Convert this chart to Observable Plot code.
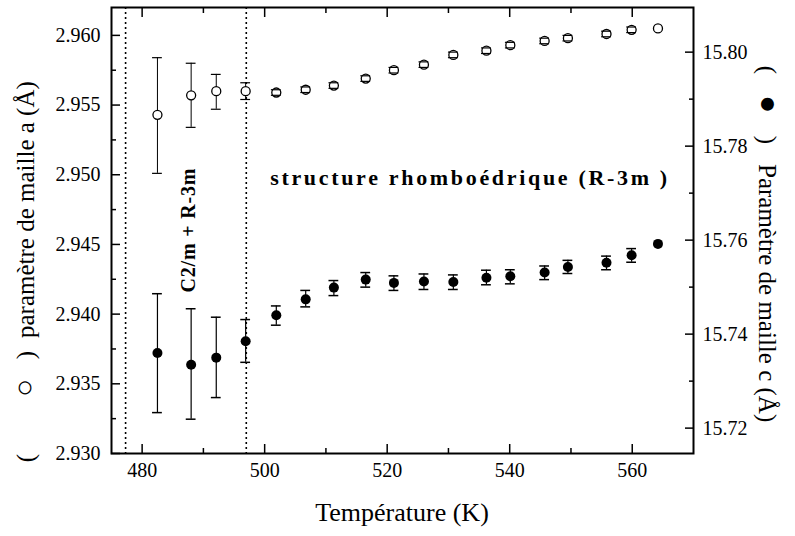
<!DOCTYPE html>
<html><head><meta charset="utf-8">
<script src="https://cdn.jsdelivr.net/npm/d3@7"></script>
<script src="https://cdn.jsdelivr.net/npm/@observablehq/plot@0.6"></script>
<style>
body{margin:0;background:#fff}
</style>
</head><body><div id="chart"></div>
<script>
// ---- data ----
const temperature = [482.5, 488.0, 492.1, 496.9, 501.9, 506.7, 511.3, 516.5, 521.1, 526.0, 530.8, 536.2, 540.1, 545.7, 549.5, 555.8, 559.9, 564.2];
const paramA     = [2.9543, 2.9557, 2.9560, 2.9560, 2.9559, 2.9561, 2.9564, 2.9569, 2.9575, 2.9579, 2.9586, 2.9589, 2.9593, 2.9596, 2.9598, 2.9601, 2.9604, 2.9605];
const paramALow  = [2.9501, 2.9534, 2.9547, 2.9554, 2.9557, 2.9559, 2.9562, 2.9567, 2.9573, 2.9577, 2.9584, 2.9587, 2.9591, 2.9594, 2.9596, 2.9599, 2.9602, null];
const paramAHigh = [2.9584, 2.9580, 2.9572, 2.9566, 2.9561, 2.9563, 2.9566, 2.9571, 2.9577, 2.9581, 2.9588, 2.9591, 2.9595, 2.9598, 2.9600, 2.9603, 2.9606, null];
const paramC     = [15.7360, 15.7335, 15.7350, 15.7385, 15.7440, 15.7474, 15.7499, 15.7516, 15.7509, 15.7512, 15.7511, 15.7520, 15.7523, 15.7531, 15.7543, 15.7552, 15.7568, 15.7592];
const paramCLow  = [15.7233, 15.7219, 15.7265, 15.7340, 15.7419, 15.7458, 15.7482, 15.7500, 15.7493, 15.7495, 15.7495, 15.7505, 15.7507, 15.7516, 15.7529, 15.7537, 15.7553, null];
const paramCHigh = [15.7486, 15.7454, 15.7436, 15.7431, 15.7460, 15.7493, 15.7514, 15.7531, 15.7524, 15.7528, 15.7526, 15.7536, 15.7537, 15.7545, 15.7557, 15.7566, 15.7582, null];

const tempDomain = [475, 570];
const aDomain = [2.930, 2.962];
const cDomain = [15.7146, 15.8095];
const tempTicks = [480, 500, 520, 540, 560];
const tempMinorTicks = [490, 510, 530, 550];
const aTicks = [2.930, 2.935, 2.940, 2.945, 2.950, 2.955, 2.960];
const aMinorTicks = [2.9325, 2.9375, 2.9425, 2.9475, 2.9525, 2.9575];
const cTicks = [15.72, 15.74, 15.76, 15.78, 15.80];
const cMinorTicks = [15.73, 15.75, 15.77, 15.79];
const phaseBoundaries = [477.3, 497.0];

const annotationText = ["structure rhomboédrique (R-3m )", "C2/m + R-3m"];
const annotationT = [533.3, 487.6];
const annotationA = [2.9498, 2.9460];

const xLabel = "Température (K)";
const yLeftParts = ["(", "○", ")", "paramètre de maille a (Å)"];
const yRightParts = ["(", "●", ")", "Paramètre de maille c (Å)"];

// ---- build ----
const serif = "Liberation Serif, Times New Roman, serif";
const cToA = d3.scaleLinear().domain(cDomain).range(aDomain);
const rowsA = temperature.map((t, i) => ({T: t, v: paramA[i], lo: paramALow[i], hi: paramAHigh[i]}));
const rowsC = temperature.map((t, i) => ({T: t, v: cToA(paramC[i]), lo: paramCLow[i] == null ? null : cToA(paramCLow[i]), hi: paramCHigh[i] == null ? null : cToA(paramCHigh[i])}));
const errA = rowsA.filter(d => d.lo != null);
const errC = rowsC.filter(d => d.lo != null);
const cap = 0.8;
const annotations = annotationText.map((t, i) => ({text: t, T: annotationT[i], a: annotationA[i], rotate: i === 1 ? -90 : 0}));
const blank = () => "";

const chart = Plot.plot({
  width: 795, height: 536,
  marginLeft: 111, marginRight: 102, marginTop: 7, marginBottom: 83,
  style: {fontSize: "20px", fontFamily: serif, background: "white", color: "black"},
  x: {domain: tempDomain},
  y: {domain: aDomain},
  marks: [
    Plot.ruleX(phaseBoundaries, {stroke: "black", strokeWidth: 1.6, strokeDasharray: "2,3"}),
    // a series (open circles)
    Plot.ruleX(errA, {x: "T", y1: "lo", y2: "hi", stroke: "black", strokeWidth: 1}),
    Plot.dot(rowsA, {x: "T", y: "v", r: 4.5, fill: "white", stroke: "black", strokeWidth: 1.3}),
    Plot.ruleY(errA, {y: "lo", x1: d => d.T - cap, x2: d => d.T + cap, stroke: "black", strokeWidth: 1.2}),
    Plot.ruleY(errA, {y: "hi", x1: d => d.T - cap, x2: d => d.T + cap, stroke: "black", strokeWidth: 1.2}),
    // c series (filled circles)
    Plot.ruleX(errC, {x: "T", y1: "lo", y2: "hi", stroke: "black", strokeWidth: 1.2}),
    Plot.ruleY(errC, {y: "lo", x1: d => d.T - cap, x2: d => d.T + cap, stroke: "black", strokeWidth: 1.5}),
    Plot.ruleY(errC, {y: "hi", x1: d => d.T - cap, x2: d => d.T + cap, stroke: "black", strokeWidth: 1.5}),
    Plot.dot(rowsC, {x: "T", y: "v", r: 5, fill: "black", stroke: "none"}),
    // annotations
    Plot.text(annotations.filter(d => d.rotate === 0), {x: "T", y: "a", text: "text", fontWeight: "bold", fontSize: 22, fill: "black"}),
    Plot.text(annotations.filter(d => d.rotate !== 0), {x: "T", y: "a", text: "text", rotate: -90, fontWeight: "bold", fontSize: 20, fill: "black"}),
    // axes: inward ticks
    Plot.axisX({ticks: tempTicks, tickSize: -9, tickFormat: blank, label: null, strokeWidth: 1.5}),
    Plot.axisX({ticks: tempMinorTicks, tickSize: -5, tickFormat: blank, label: null, strokeWidth: 1.5}),
    Plot.axisX({anchor: "top", ticks: tempTicks, tickSize: -9, tickFormat: blank, label: null, strokeWidth: 1.5}),
    Plot.axisX({anchor: "top", ticks: tempMinorTicks, tickSize: -5, tickFormat: blank, label: null, strokeWidth: 1.5}),
    Plot.axisX({ticks: tempTicks, tickSize: 0, tickPadding: 9, label: null, fontSize: 20, tickFormat: d3.format("d")}),
    Plot.axisY({ticks: aTicks, tickSize: -9, tickFormat: blank, label: null, strokeWidth: 1.5}),
    Plot.axisY({ticks: aMinorTicks, tickSize: -5, tickFormat: blank, label: null, strokeWidth: 1.5}),
    Plot.axisY({ticks: aTicks, tickSize: 0, tickPadding: 11, label: null, fontSize: 20, tickFormat: d3.format(".3f")}),
    Plot.axisY({anchor: "right", ticks: cTicks.map(cToA), tickSize: -9, tickFormat: blank, label: null, strokeWidth: 1.5}),
    Plot.axisY({anchor: "right", ticks: cMinorTicks.map(cToA), tickSize: -5, tickFormat: blank, label: null, strokeWidth: 1.5}),
    Plot.axisY({anchor: "right", ticks: cTicks.map(cToA), tickSize: 0, tickPadding: 9, label: null, fontSize: 20, tickFormat: d => cToA.invert(d).toFixed(2)}),
    Plot.frame({stroke: "black", strokeWidth: 2})
  ]
});

const svg = d3.select(chart);
svg.selectAll("text").filter(function(){ return this.textContent === annotationText[0]; })
  .attr("textLength", 397).attr("lengthAdjust", "spacing");
svg.selectAll("text").filter(function(){ return this.textContent === annotationText[1]; })
  .attr("textLength", 124).attr("lengthAdjust", "spacing");

svg.append("text").attr("x", 402).attr("y", 521).attr("text-anchor", "middle")
  .attr("font-size", 26).attr("fill", "black").text(xLabel);

// left label (reads bottom to top): pieces at given screen y positions
const leftY = [458, 388, 355, 338];
yLeftParts.forEach((t, i) => {
  svg.append("text").attr("transform", `translate(34,${leftY[i]}) rotate(-90)`)
    .attr("text-anchor", i < 3 ? "middle" : "start")
    .attr("font-size", i === 1 ? 30 : 25).attr("fill", "black").text(t);
});
// right label (reads top to bottom)
const rightY = [70, 104, 140, 164];
yRightParts.forEach((t, i) => {
  svg.append("text").attr("transform", `translate(759,${rightY[i]}) rotate(90)`)
    .attr("text-anchor", i < 3 ? "middle" : "start")
    .attr("font-size", i === 1 ? 30 : 25).attr("fill", "black").text(t);
});

// force the serif family and plain digits on every text of the figure
svg.selectAll("text, g").style("font-family", serif).style("font-variant", "normal");

document.getElementById("chart").appendChild(chart);
</script>
</body></html>
